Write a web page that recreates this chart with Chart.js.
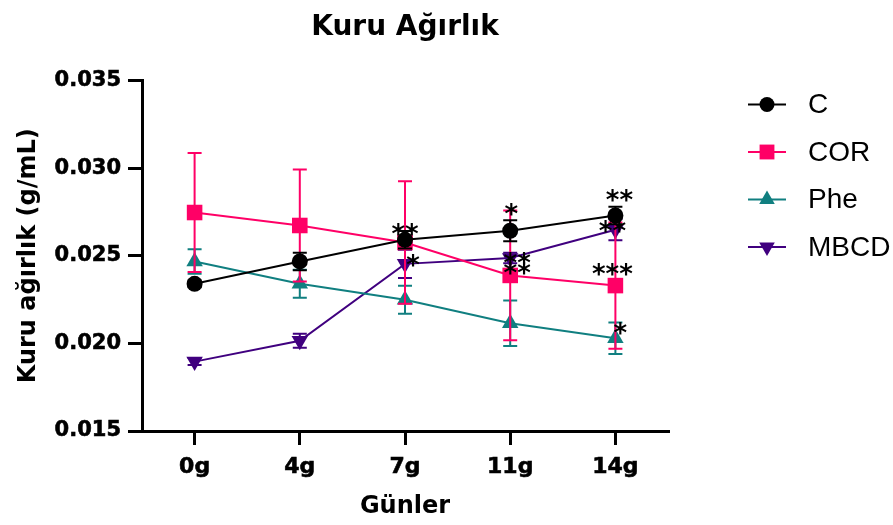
<!DOCTYPE html>
<html>
<head>
<meta charset="utf-8">
<script src="https://cdn.jsdelivr.net/npm/chart.js@4.4.0/dist/chart.umd.min.js"></script>
<style>
  html, body { margin: 0; padding: 0; background: #ffffff; }
  canvas { display: block; }
</style>
</head>
<body>
<canvas id="chart" width="893" height="525"></canvas>
<script>
// Sampling days
const days = ['0g', '4g', '7g', '11g', '14g'];

// Mean dry weight (g/mL) per group
const meanC    = [0.02340, 0.02468, 0.02591, 0.02643, 0.02730];
const meanCOR  = [0.02747, 0.02673, 0.02576, 0.02388, 0.02330];
const meanPhe  = [0.02468, 0.02340, 0.02249, 0.02115, 0.02030];
const meanMBCD = [0.01896, 0.02015, 0.02454, 0.02487, 0.02649];

// Standard deviations
const sdC    = [0.0002, 0.0005, 0.0005, 0.0006, 0.0005];
const sdCOR  = [0.0034, 0.0032, 0.0035, 0.0037, 0.0036];
const sdPhe  = [0.0007, 0.0008, 0.0008, 0.0013, 0.0009];
const sdMBCD = [0.0002, 0.0004, 0.0008, 0.0003, 0.0006];

// Significance marks
const sigC    = ['', '', '**', '*', '**'];
const sigCOR  = ['', '', '', '**', '***'];
const sigPhe  = ['', '', '', '', '*'];
const sigMBCD = ['', '', '*', '**', '**'];

// Y axis ticks
const yTicks = [0.015, 0.020, 0.025, 0.030, 0.035];

const BOLD = "'DejaVu Sans', sans-serif";

// Where each significance mark sits relative to its point (px)
const sigOffsets = {
  C:    {2: [0, -12], 3: [1, -23], 4: [4, -22]},
  COR:  {3: [7, -8],  4: [-3, -18]},
  Phe:  {4: [5, -11]},
  MBCD: {2: [8, -5],  3: [7, -1],  4: [-3, -5]}
};

function series(label, data, sd, sig, color, style, radius, rotation) {
  return {
    label, data, sd, sig,
    borderColor: color,
    backgroundColor: color,
    borderWidth: 2,
    pointStyle: style,
    pointRadius: radius,
    pointHoverRadius: radius,
    pointRotation: rotation,
    pointBorderWidth: 0,
    pointBackgroundColor: color,
    tension: 0,
    clip: false
  };
}

const errorBars = {
  id: 'errorBars',
  beforeDatasetDraw(chart, args) {
    const ds = chart.data.datasets[args.index];
    const yScale = chart.scales.y;
    const ctx = chart.ctx;
    ctx.save();
    ctx.strokeStyle = ds.borderColor;
    ctx.lineWidth = 2;
    args.meta.data.forEach((pt, i) => {
      const m = ds.data[i], e = ds.sd[i];
      const yt = yScale.getPixelForValue(m + e);
      const yb = yScale.getPixelForValue(m - e);
      ctx.beginPath();
      ctx.moveTo(pt.x, yt); ctx.lineTo(pt.x, yb);
      ctx.moveTo(pt.x - 7, yt); ctx.lineTo(pt.x + 7, yt);
      ctx.moveTo(pt.x - 7, yb); ctx.lineTo(pt.x + 7, yb);
      ctx.stroke();
    });
    ctx.restore();
  }
};

const sigMarks = {
  id: 'sigMarks',
  afterDatasetsDraw(chart) {
    const ctx = chart.ctx;
    ctx.save();
    ctx.fillStyle = '#000';
    ctx.font = 'bold 26px ' + BOLD;
    ctx.textAlign = 'center';
    ctx.textBaseline = 'alphabetic';
    chart.data.datasets.forEach((ds, di) => {
      const meta = chart.getDatasetMeta(di);
      ds.sig.forEach((s, i) => {
        if (!s) return;
        const off = (sigOffsets[ds.label] || {})[i] || [0, -14];
        const pt = meta.data[i];
        ctx.fillText(s, pt.x + off[0], pt.y + off[1] + 15);
      });
    });
    ctx.restore();
  }
};

const sideLegend = {
  id: 'sideLegend',
  afterDraw(chart) {
    const ctx = chart.ctx;
    const x0 = 748, x1 = 786, xm = 767, xt = 808;
    const yStart = 104.5, step = 47.5;
    ctx.save();
    chart.data.datasets.forEach((ds, i) => {
      const y = yStart + i * step;
      ctx.strokeStyle = ds.borderColor;
      ctx.lineWidth = 2;
      ctx.beginPath();
      ctx.moveTo(x0, y); ctx.lineTo(x1, y);
      ctx.stroke();
      ctx.fillStyle = ds.borderColor;
      Chart.helpers.drawPoint(ctx, {
        pointStyle: ds.pointStyle,
        radius: ds.pointRadius - 0.5,
        rotation: ds.pointRotation,
        borderWidth: 0
      }, xm, y);
      ctx.fillStyle = '#000';
      ctx.font = "28px 'Liberation Sans', Arial, sans-serif";
      ctx.textAlign = 'left';
      ctx.textBaseline = 'middle';
      ctx.fillText(ds.label, xt, y + 1);
    });
    ctx.restore();
  }
};

new Chart(document.getElementById('chart'), {
  type: 'line',
  data: {
    labels: days,
    datasets: [
      series('C',    meanC,    sdC,    sigC,    '#000000', 'circle',   8, 0),
      series('COR',  meanCOR,  sdCOR,  sigCOR,  '#FF0066', 'rect',     11, 0),
      series('Phe',  meanPhe,  sdPhe,  sigPhe,  '#107F80', 'triangle', 9.5, 0),
      series('MBCD', meanMBCD, sdMBCD, sigMBCD, '#40007F', 'triangle', 9.5, 180)
    ]
  },
  options: {
    responsive: false,
    animation: false,
    layout: { padding: { left: 0, right: 225, top: 0, bottom: 0 } },
    plugins: {
      legend: { display: false },
      tooltip: { enabled: false },
      title: {
        display: true,
        text: 'Kuru Ağırlık',
        color: '#000',
        fullSize: false,
        font: { family: BOLD, size: 28, weight: 'bold', lineHeight: 1.2 },
        padding: { top: 11, bottom: 36 }
      }
    },
    scales: {
      x: {
        type: 'category',
        offset: true,
        afterFit(scale) { scale.height = 94; },
        border: { display: true, color: '#000', width: 3 },
        grid: { display: true, drawOnChartArea: false, drawTicks: true, tickLength: 14, color: '#000', lineWidth: 3 },
        ticks: {
          color: '#000', padding: 9,
          textStrokeColor: '#000', textStrokeWidth: 0.6,
          font: { family: BOLD, size: 22, weight: 'bold' }
        },
        title: {
          display: true, text: 'Günler', color: '#000',
          font: { family: BOLD, size: 24, weight: 'bold', lineHeight: 1.2 },
          padding: { top: 4, bottom: 4 }
        }
      },
      y: {
        min: 0.015,
        max: 0.035,
        afterFit(scale) { scale.width = 142; },
        afterBuildTicks(scale) { scale.ticks = yTicks.map(v => ({ value: v })); },
        border: { display: true, color: '#000', width: 3 },
        grid: { display: true, drawOnChartArea: false, drawTicks: true, tickLength: 14, color: '#000', lineWidth: 3 },
        ticks: {
          color: '#000', padding: 7,
          textStrokeColor: '#000', textStrokeWidth: 0.6,
          font: { family: BOLD, size: 21, weight: 'bold' },
          callback: v => v.toFixed(3)
        },
        title: {
          display: true, text: 'Kuru ağırlık (g/mL)', color: '#000',
          font: { family: BOLD, size: 24, weight: 'bold', lineHeight: 1.2 },
          padding: { top: 14, bottom: 4 }
        }
      }
    }
  },
  plugins: [errorBars, sigMarks, sideLegend]
});
</script>
</body>
</html>
